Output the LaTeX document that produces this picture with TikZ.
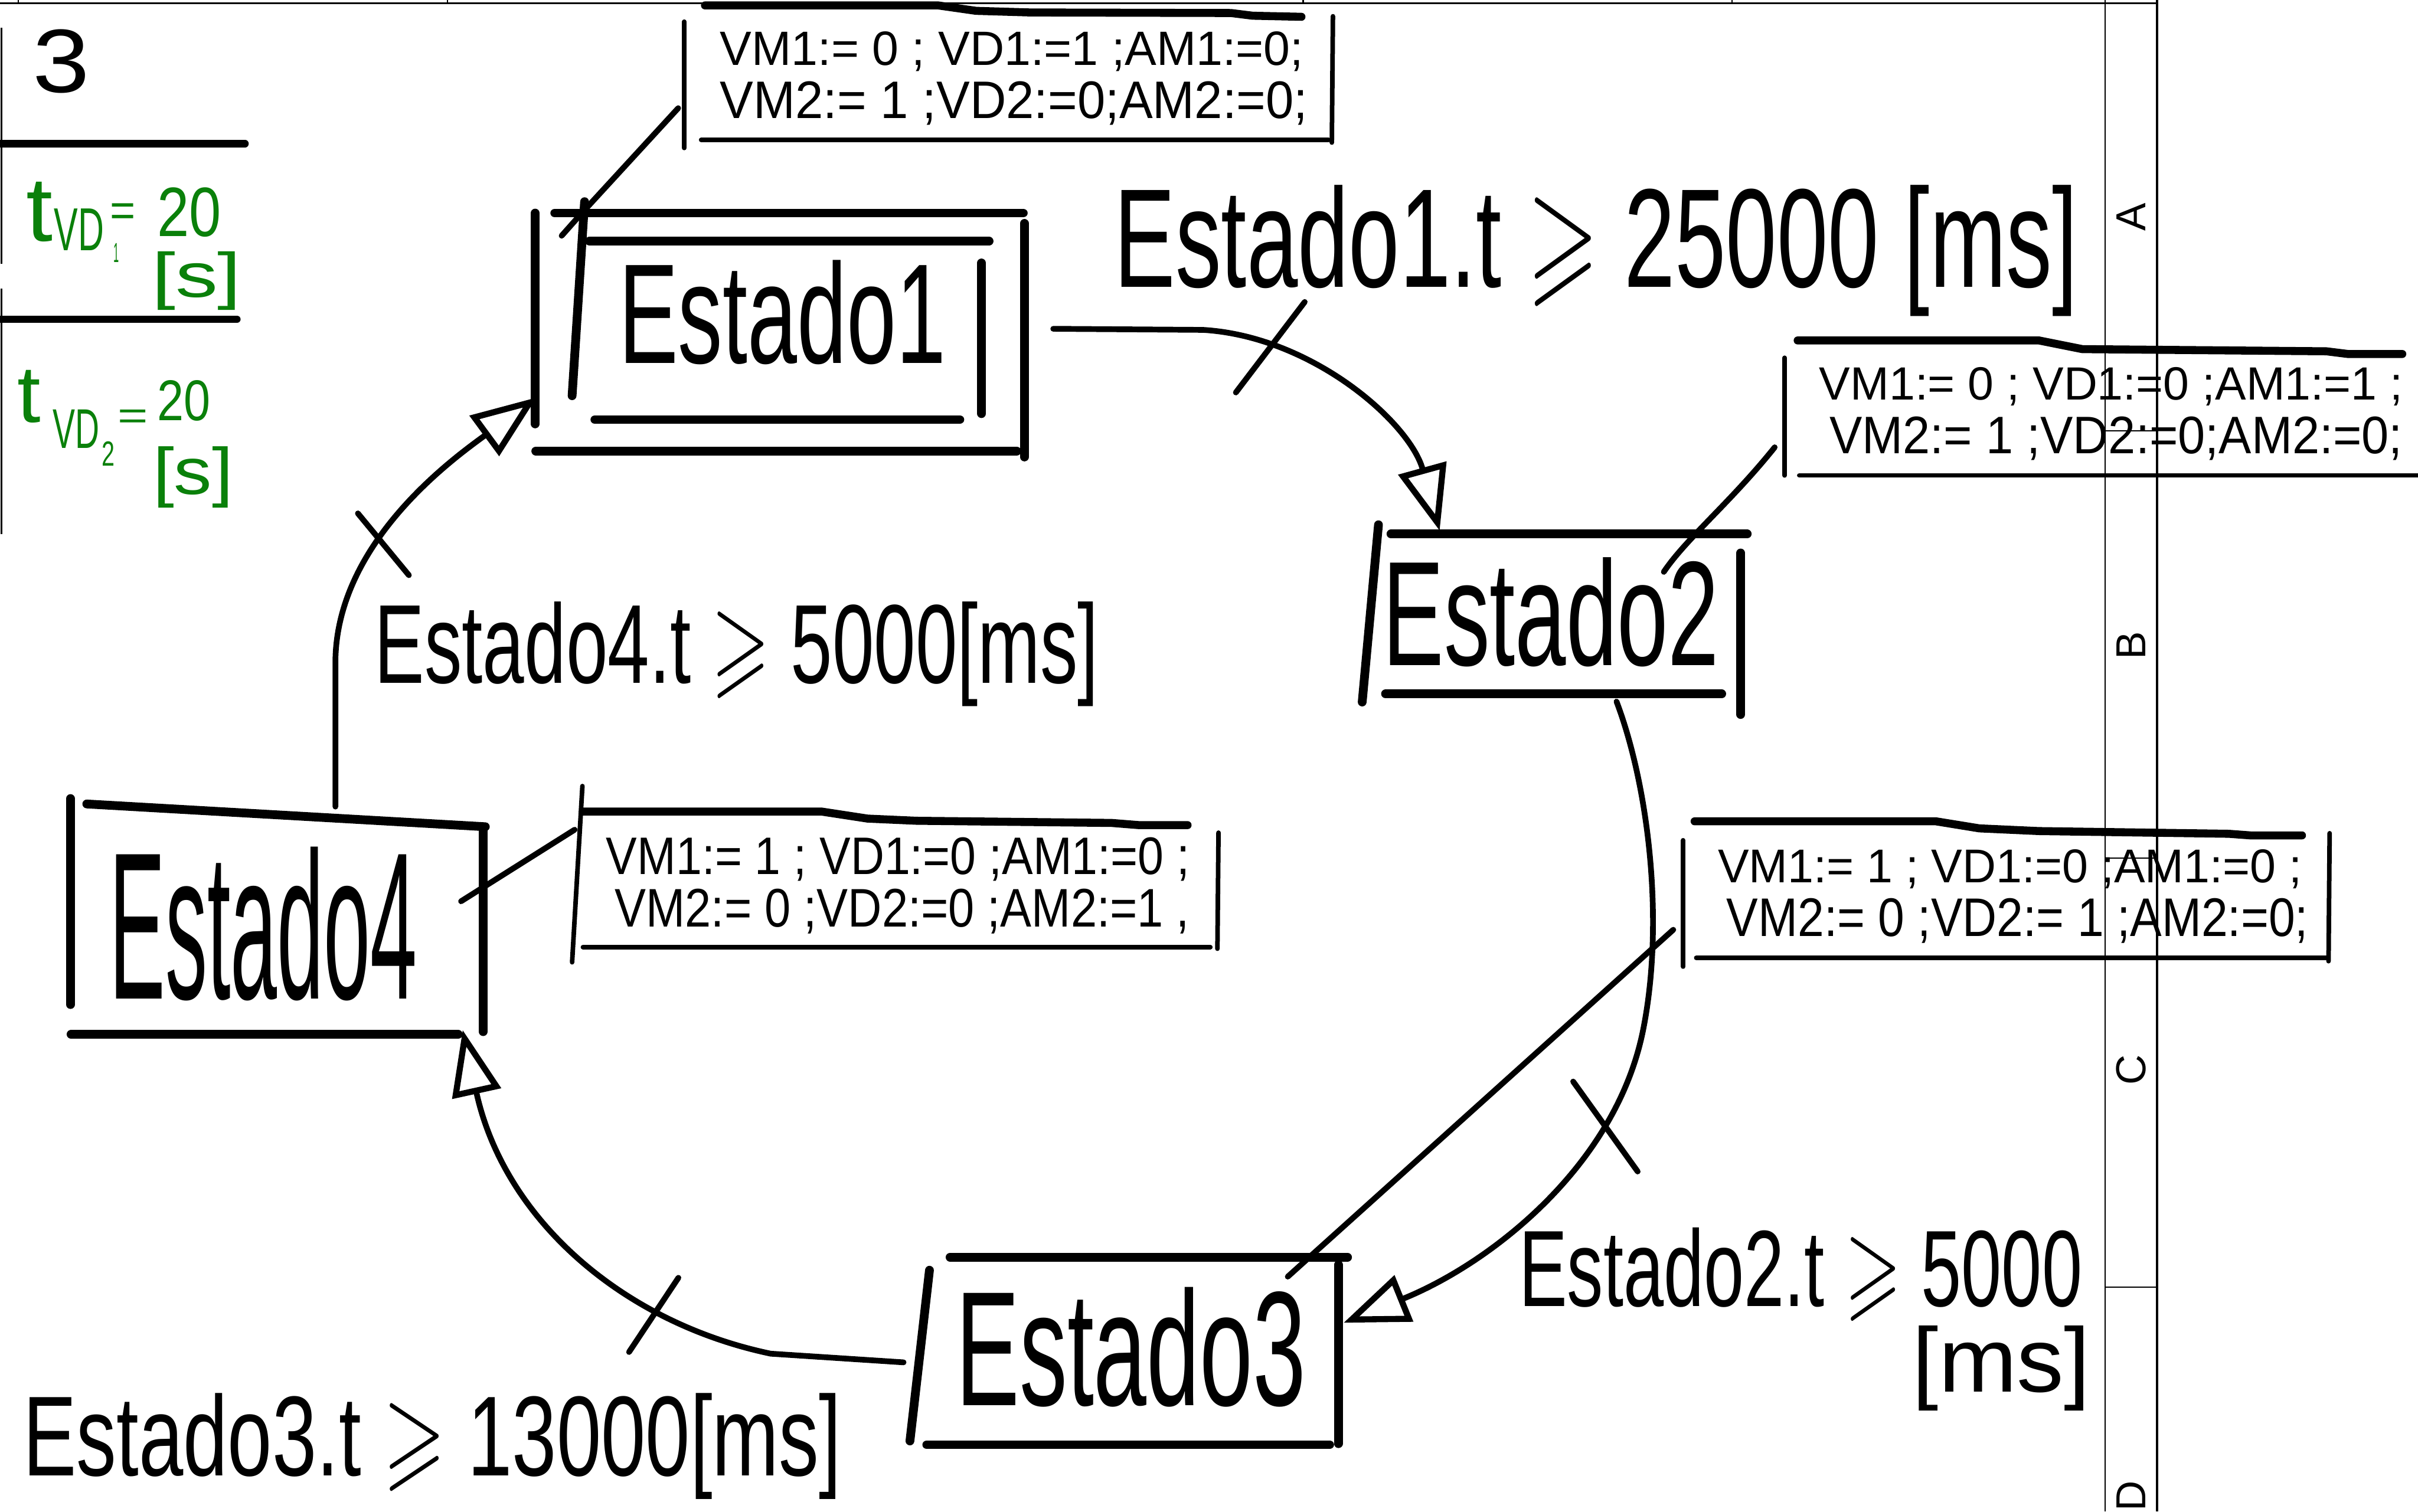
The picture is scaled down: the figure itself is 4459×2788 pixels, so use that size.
\documentclass[tikz,border=0pt]{standalone}
\usepackage{fontspec}
\setmainfont{Liberation Sans}
\usepackage{amssymb}
\usepackage{graphicx}
\usetikzlibrary{arrows.meta,calc}
\definecolor{greenink}{RGB}{10,128,10}
\newcommand{\fitw}[3]{\resizebox{#1cm}{#2cm}{#3}}
\begin{document}
\begin{tikzpicture}[x=0.01cm,y=-0.01cm,
  frame/.style={rectangle,draw=none,inner sep=0pt,outer sep=0pt},
  txt/.style={inner sep=0pt,outer sep=0pt,anchor=base west},
  gtxt/.style={txt,text=greenink},
  sk/.style={line width=4.6pt,line cap=round,line join=round},
  ab/.style={line width=2.4pt,line cap=round,line join=round},
  abtop/.style={line width=4.2pt,line cap=round,line join=round},
  con/.style={line width=3pt,line cap=round,line join=round},
  tip/.style={-{Triangle[open,length=1.2cm,width=0.9cm,line width=3.2pt]}},
  tickmark/.style={line width=3pt,line cap=round},
  gridline/.style={line width=0.7pt},
  strip/.style={rotate=90,inner sep=0pt,font=\fontsize{22}{24}\selectfont}]
\fill[white] (0,0) rectangle (4459,2788);
\useasboundingbox (0,0) rectangle (4459,2788);

% ---------- page grid ----------
\draw[line width=1pt] (0,6) -- (3978,6);
\foreach \xx in {34,825,2403,3194} \draw[gridline] (\xx,0) -- (\xx,6);
\draw[gridline] (3882,0) -- (3882,2788);
\draw[line width=1.2pt] (3978,0) -- (3978,2788);
\foreach \yy in {795,1583,2374} \draw[line width=0.5pt] (3882,\yy) -- (3978,\yy);
\node[strip] (colA) at (3930,400) {A};
\node[strip] (colB) at (3930,1191) {B};
\node[strip] (colC) at (3930,1974) {C};
\node[strip] (colD) at (3930,2760) {D};

% ---------- top-left panel ----------
\draw[line width=1pt] (3,51) -- (3,487);
\draw[line width=1pt] (3,532) -- (3,985);
\draw[line width=3.8pt,line cap=round] (0,265) -- (452,265);
\draw[line width=3.8pt,line cap=round] (0,589) -- (437,589);
\node[txt] (three) at (60,170) {\fitw{1.05}{1.16}{3}};
\node[gtxt] (g1t) at (48,445) {\fitw{0.49}{1.09}{t}};
\node[gtxt] (g1vd) at (100,462) {\fitw{0.92}{0.77}{VD}};
\node[gtxt] (g1eq) at (203,417) {\fitw{0.47}{0.42}{=}};
\node[gtxt] (g1one) at (210,484) {\fitw{0.10}{0.35}{1}};
\node[gtxt] (g1num) at (290,436) {\fitw{1.18}{0.90}{20}};
\node[gtxt] (g1unit) at (280,548) {\fitw{1.65}{0.84}{[s]}};
\node[gtxt] (g2t) at (32,779) {\fitw{0.43}{0.96}{t}};
\node[gtxt] (g2vd) at (97,827) {\fitw{0.86}{0.71}{VD}};
\node[gtxt] (g2two) at (188,859) {\fitw{0.24}{0.45}{2}};
\node[gtxt] (g2eq) at (217,792) {\fitw{0.56}{0.36}{=}};
\node[gtxt] (g2num) at (290,776) {\fitw{0.98}{0.74}{20}};
\node[gtxt] (g2unit) at (282,912) {\fitw{1.48}{0.88}{[s]}};

% ---------- state frames (invisible anchors) ----------
\node[frame,minimum width=9.02cm,minimum height=4.39cm] (s1) at (1438,612.5) {};
\node[frame,minimum width=7.10cm,minimum height=3.50cm] (s2) at (2867,1143) {};
\node[frame,minimum width=8.07cm,minimum height=3.46cm] (s3) at (2081,2492) {};
\node[frame,minimum width=7.65cm,minimum height=4.37cm] (s4) at (512.5,1691.5) {};
% action frames
\node[frame,minimum width=11.96cm,minimum height=2.65cm] (a1) at (1860,140.5) {};
\node[frame,minimum width=11.68cm,minimum height=2.55cm] (a2) at (3875,749.5) {};
\node[frame,minimum width=11.95cm,minimum height=3.23cm] (a3) at (1649.5,1616.5) {};
\node[frame,minimum width=11.92cm,minimum height=2.76cm] (a4) at (3700,1645) {};

% ---------- Estado1 (double box) ----------
\draw[sk] (987,393) -- (987,782);
\draw[sk] (1023,393) -- (1887,393);
\draw[sk] (1889,412) -- (1889,843);
\draw[sk] (988,832) -- (1875,832);
\draw[sk] (1078,372) -- (1055,730);
\draw[sk] (1087,445) -- (1824,445);
\draw[sk] (1810,485) -- (1810,763);
\draw[sk] (1097,774) -- (1770,774);
\node[txt] (s1t) at (1141,670) {\fitw{6.03}{1.90}{Estado1}};

% ---------- Estado2 ----------
\draw[sk] (2542,968) -- (2512,1295);
\draw[sk] (2565,985) -- (3222,985);
\draw[sk] (3210,1020) -- (3210,1318);
\draw[sk] (2555,1280) -- (3175,1280);
\node[txt] (s2t) at (2550,1227) {\fitw{6.20}{1.99}{Estado2}};

% ---------- Estado3 ----------
\draw[sk] (1714,2343) -- (1678,2658);
\draw[sk] (1752,2319) -- (2485,2319);
\draw[sk] (2468,2333) -- (2468,2663);
\draw[sk] (1709,2665) -- (2452,2665);
\node[txt] (s3t) at (1763,2593) {\fitw{6.45}{2.18}{Estado3}};

% ---------- Estado4 ----------
\draw[sk] (130,1473) -- (130,1853);
\draw[sk] (160,1483) -- (895,1525);
\draw[sk] (891,1530) -- (891,1903);
\draw[sk] (131,1908) -- (845,1908);
\node[txt] (s4t) at (202,1843) {\fitw{5.67}{2.80}{Estado4}};

% ---------- action boxes ----------
\draw[abtop] (1300,10) -- (1730,10) -- (1800,20) -- (1900,23) -- (2270,24) -- (2310,29) -- (2400,31);
\draw[ab] (1262,40) -- (1262,273);
\draw[ab] (2458,30) -- (2456,263);
\draw[ab] (1293,258) -- (2450,258);
\node[txt] (a1l1) at (1328,120) {\fitw{10.75}{0.62}{VM1:= 0 ; VD1:=1 ;AM1:=0;}};
\node[txt] (a1l2) at (1328,218) {\fitw{10.83}{0.68}{VM2:= 1 ;VD2:=0;AM2:=0;}};

\draw[abtop] (3315,628) -- (3760,628) -- (3840,644) -- (4290,648) -- (4330,653) -- (4430,653);
\draw[ab] (3291,660) -- (3291,877);
\draw[ab] (3318,877) -- (4459,877);
\node[txt] (a2l1) at (3355,738) {\fitw{10.75}{0.60}{VM1:= 0 ; VD1:=0 ;AM1:=1 ;}};
\node[txt] (a2l2) at (3374,837) {\fitw{10.56}{0.68}{VM2:= 1 ;VD2:=0;AM2:=0;}};

\draw[abtop] (1075,1497) -- (1515,1497) -- (1600,1510) -- (1690,1514) -- (2050,1518) -- (2100,1522) -- (2190,1522);
\draw[ab] (1074,1450) -- (1055,1775);
\draw[ab] (2247,1536) -- (2245,1750);
\draw[ab] (1075,1747) -- (2232,1747);
\node[txt] (a3l1) at (1118,1613) {\fitw{10.75}{0.68}{VM1:= 1 ; VD1:=0 ;AM1:=0 ;}};
\node[txt] (a3l2) at (1134,1710) {\fitw{10.59}{0.70}{VM2:= 0 ;VD2:=0 ;AM2:=1 ,}};

\draw[abtop] (3125,1515) -- (3570,1515) -- (3650,1528) -- (3760,1533) -- (4110,1538) -- (4150,1541) -- (4245,1541);
\draw[ab] (3104,1550) -- (3104,1783);
\draw[ab] (4296,1537) -- (4294,1773);
\draw[ab] (3128,1767) -- (4292,1767);
\node[txt] (a4l1) at (3168,1628) {\fitw{10.76}{0.61}{VM1:= 1 ; VD1:=0 ;AM1:=0 ;}};
\node[txt] (a4l2) at (3184,1727) {\fitw{10.72}{0.70}{VM2:= 0 ;VD2:= 1 ;AM2:=0;}};

% ---------- association lines ----------
\draw[con] ($(a1.west)+(-11,59)$) -- ++(-180,196) -- ($(s1.north west)+(49,42)$);
\draw[con] ($(a2.south west)+(-18,-52)$) .. controls +(-80,100) and +(40,-60) .. ($(s2.north east)+(-154,87)$);
\draw[con] ($(a3.west)+(8,-86)$) -- ($(s4.east)+(-45,-29)$);
\draw[con] ($(a4.west)+(-18,70)$) -- ($(s3.north east)+(-110,36)$);

% ---------- transitions ----------
\draw[con,tip] ($(s1.east)+(53,-6)$) -- ++(276,2) .. controls +(202,12) and +(-55,-199) .. ($(s2.north west)+(143,11)$);
\draw[con,tip] ($(s2.south)+(114,-24)$) .. controls +(59,156) and +(40,-200) .. (3030,1900) .. controls +(-50,250) and +(272,-110) .. ($(s3.east)+(-7,-52)$);
\draw[con,tip] ($(s3.west)+(-11,21)$) -- ++(-245,-16) .. controls +(-272,-57) and +(77,350) .. ($(s4.south east)+(-42,-10)$);
\draw[con,tip] ($(s4.north)+(106,15)$) -- ++(0,-265) .. controls +(0,-223) and +(-150,110) .. ($(s1.south west)+(3,-99)$);

\draw[tickmark] (2406,557) -- (2279,724);
\draw[tickmark] (2901,1995) -- (3020,2161);
\draw[tickmark] (1251,2357) -- (1160,2494);
\draw[tickmark] (660,947) -- (754,1061);

% ---------- transition labels ----------
\node[txt] (t1) at (2055,530) {\fitw{17.75}{1.88}{Estado1.t $\geqslant$ 25000 [ms]}};
\node[txt] (t2a) at (2801,2410) {\fitw{10.38}{1.45}{Estado2.t $\geqslant$ 5000}};
\node[txt] (t2b) at (3527,2568) {\fitw{3.27}{1.22}{[ms]}};
\node[txt] (t3) at (43,2722) {\fitw{15.07}{1.52}{Estado3.t $\geqslant$ 13000[ms]}};
\node[txt] (t4) at (691,1260) {\fitw{13.34}{1.50}{Estado4.t $\geqslant$ 5000[ms]}};
\end{tikzpicture}
\end{document}
